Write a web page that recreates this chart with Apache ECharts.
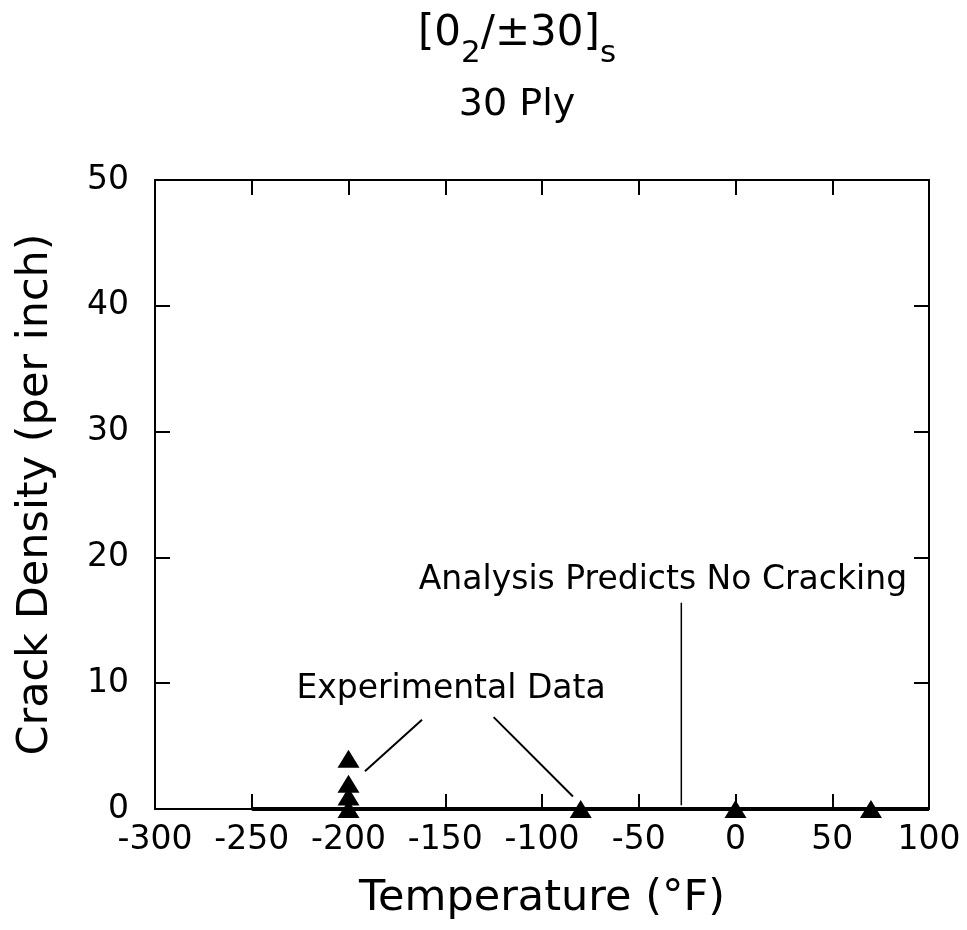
<!DOCTYPE html>
<html><head><meta charset="utf-8">
<script src="https://cdn.jsdelivr.net/npm/echarts@6/dist/echarts.min.js"></script>
<style>html,body{margin:0;padding:0;background:#fff}#c{width:967px;height:930px}</style>
</head><body><div id="c"></div>
<script>
// Data
const expTemps = [-200, -200, -200, -200, -80, 0, 70];
const expDensity = [4, 2, 1, 0, 0, 0, 0];
const predTemps = [-250, 100];
const predDensity = [0, 0];
const leaderLine1 = [[-191.5, 3.0], [-162, 7.1]];
const leaderLine2 = [[-125, 7.3], [-84, 1.0]];
const predLeader = [[-28, 0.3], [-28, 16.4]];
const annotationTexts = ['Experimental Data', 'Analysis Predicts No Cracking'];
const annotationPos = [[-147, 9.5], [-37.5, 18.2]];
const xMin = -300, xMax = 100, xStep = 50;
const yMin = 0, yMax = 50, yStep = 10;

const FONT = 'DejaVu Sans';
const chart = echarts.init(document.getElementById('c'));

function axisCommon(showLabels, margin) {
  return {
    axisLine: { show: true, onZero: false, lineStyle: { color: '#000', width: 2 } },
    axisTick: { show: true, inside: true, length: 15, lineStyle: { color: '#000', width: 2 } },
    splitLine: { show: false },
    axisLabel: { show: showLabels, color: '#000', fontFamily: FONT, fontSize: 33, margin: margin || 8 }
  };
}

const option = {
  backgroundColor: '#fff',
  animation: false,
  title: {
    left: 512, top: 8, textAlign: 'center',
    text: '{a|[0}{s|2}{a|/±30]}{s|s}\n{b|30 Ply}',
    textStyle: {
      fontWeight: 'normal',
      rich: {
        a: { fontFamily: FONT, fontSize: 42, fontWeight: 'normal', color: '#000', lineHeight: 62, verticalAlign: 'top' },
        s: { fontFamily: FONT, fontSize: 31, fontWeight: 'normal', color: '#000', lineHeight: 62, verticalAlign: 'top', padding: [25, 0, 0, 0] },
        b: { fontFamily: FONT, fontSize: 38, fontWeight: 'normal', color: '#000', lineHeight: 60 }
      }
    }
  },
  grid: { left: 155, right: 38, top: 180, bottom: 121, containLabel: false },
  xAxis: [
    Object.assign(axisCommon(true, 15), {
      type: 'value', position: 'bottom', min: xMin, max: xMax, interval: xStep,
      name: 'Temperature (°F)', nameLocation: 'middle', nameGap: 68,
      nameTextStyle: { fontFamily: FONT, fontSize: 43, color: '#000' }
    }),
    Object.assign(axisCommon(false), {
      type: 'value', position: 'top', min: xMin, max: xMax, interval: xStep
    })
  ],
  yAxis: [
    Object.assign(axisCommon(true, 26), {
      type: 'value', position: 'left', min: yMin, max: yMax, interval: yStep,
      name: 'Crack Density (per inch)', nameLocation: 'middle', nameGap: 98,
      nameTextStyle: { fontFamily: FONT, fontSize: 43, color: '#000' }
    }),
    Object.assign(axisCommon(false), {
      type: 'value', position: 'right', min: yMin, max: yMax, interval: yStep
    })
  ],
  series: [
    {
      type: 'line', name: 'Prediction', symbol: 'none',
      data: predTemps.map((t, i) => [t, predDensity[i]]),
      lineStyle: { color: '#000', width: 4 }, z: 3
    },
    {
      type: 'scatter', name: 'Experimental Data', symbol: 'triangle', symbolSize: [22, 18],
      data: expTemps.map((t, i) => [t, expDensity[i]]),
      itemStyle: { color: '#000', opacity: 1 }, z: 5
    },
    {
      type: 'line', symbol: 'none', data: leaderLine1,
      lineStyle: { color: '#000', width: 2 }
    },
    {
      type: 'line', symbol: 'none', data: leaderLine2,
      lineStyle: { color: '#000', width: 2 }
    },
    {
      type: 'line', symbol: 'none', data: predLeader,
      lineStyle: { color: '#000', width: 1.5 }
    },
    {
      type: 'scatter', symbolSize: 0,
      data: annotationPos.map((p, i) => ({ value: p, name: annotationTexts[i] })),
      itemStyle: { opacity: 1 },
      label: { show: true, position: 'inside', formatter: p => p.name,
        fontFamily: FONT, fontSize: 33, color: '#000' }
    }
  ]
};
chart.setOption(option);
</script>
</body></html>
